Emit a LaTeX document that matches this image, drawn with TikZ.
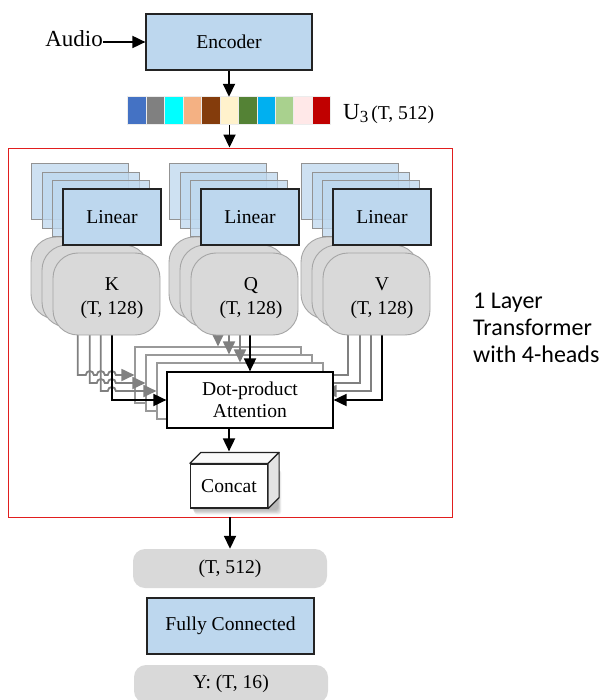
\documentclass[tikz,border=0pt]{standalone}
\usepackage{fontspec}
\setmainfont{Liberation Serif}
\newfontfamily\calibrifont{Carlito}
\usetikzlibrary{arrows.meta,calc}
\definecolor{boxblue}{RGB}{189,215,238}
\definecolor{blobgray}{RGB}{217,217,217}
\definecolor{blobedge}{RGB}{165,165,165}
\definecolor{linegray}{RGB}{128,128,128}
\definecolor{frameRed}{RGB}{225,30,30}
\definecolor{edgedark}{RGB}{35,35,35}
\definecolor{cA}{RGB}{68,114,196}
\definecolor{cB}{RGB}{128,128,128}
\definecolor{cC}{RGB}{0,255,255}
\definecolor{cD}{RGB}{244,177,131}
\definecolor{cE}{RGB}{132,60,12}
\definecolor{cF}{RGB}{255,242,204}
\definecolor{cG}{RGB}{84,130,53}
\definecolor{cH}{RGB}{0,176,240}
\definecolor{cI}{RGB}{169,209,142}
\definecolor{cJ}{RGB}{255,232,232}
\definecolor{cK}{RGB}{192,0,0}
\begin{document}
\begin{tikzpicture}[x=1pt,y=-1pt,
  txt/.style={font=\fontsize{19.6}{23}\selectfont},
  bluebox/.style={draw=edgedark,fill=boxblue,line width=1.2pt,inner sep=0pt,txt},
  backblue/.style={draw=gray!85,fill=boxblue,fill opacity=0.75,line width=1pt},
  blobstyle/.style={draw=blobedge,fill=blobgray,line width=0.9pt,rounded corners=25pt},
  attback/.style={draw=gray!80,fill=white,line width=1.1pt,inner sep=0pt,minimum width=166pt,minimum height=56pt},
  arr/.style={line width=1.8pt,-{Triangle[length=13pt,width=12pt]}},
  garr/.style={draw=linegray,line width=1.8pt,-{Triangle[length=13pt,width=12pt]}},
  greybox/.style={fill=blobgray,rounded corners=12pt,inner sep=0pt,txt},
]
\useasboundingbox (0,0) rectangle (602,700);

% red frame
\node[draw=frameRed,line width=0.9pt,minimum width=444pt,minimum height=369pt,inner sep=0pt] (frame) at (230,332.5) {};

% encoder and input
\node[bluebox,minimum width=166pt,minimum height=56pt] (enc) at (229,42) {Encoder};
\node[anchor=base east,font=\fontsize{23}{23}\selectfont,inner sep=0pt] (audio) at (103,47) {Audio};
\draw[arr] (audio.east |- enc.west) -- (enc.west);

% colour bar
\node[minimum width=203pt,minimum height=28pt,inner sep=0pt] (bar) at (229.5,111) {};
\foreach \c [count=\i from 0] in {cA,cB,cC,cD,cE,cF,cG,cH,cI,cJ,cK}
  \draw[fill=\c,draw=white!85!gray,line width=0.8pt] ($(bar.north west)+(\i*18.4545,0)$) rectangle ++(18.4545,28);
\node[anchor=base west,inner sep=0pt] (ulab) at (343,120) {{\fontsize{23}{23}\selectfont U}\raisebox{-3pt}{\fontsize{17}{17}\selectfont 3}\hspace{3pt}{\fontsize{19.6}{23}\selectfont(T, 512)}};
\draw[arr] (enc.south) -- (enc.south |- bar.north);
\draw[arr] (bar.south) -- (bar.south |- frame.north);

% positions of the front blobs (for the connectors)
\foreach \nm/\gx in {K/31,Q/169,V/301}{
  \path (\gx+75.5,294) node[minimum width=107pt,minimum height=82pt,inner sep=0pt] (pos\nm) {};
}

% attention stack with incoming connectors
\node[attback] (att0) at (218,375) {};
\coordinate (k0) at ($(posK.south west)+(25,-8)$);
\coordinate (k1) at ($(posK.south west)+(37,-8)$);
\coordinate (k2) at ($(posK.south west)+(48,-8)$);
\coordinate (k3) at ($(posK.south west)+(59,-8)$);
\coordinate (v0) at ($(posV.south west)+(25,-8)$);
\coordinate (v1) at ($(posV.south west)+(37,-8)$);
\coordinate (v2) at ($(posV.south west)+(48,-8)$);
\coordinate (v3) at ($(posV.south west)+(59,-8)$);
\coordinate (q0) at ($(posQ.south west)+(25,-8)$);
\draw[garr] (k0) -- (k0 |- att0.west) -- ++(8,0) arc[start angle=180,end angle=360,radius=4] -- ++(3,0) arc[start angle=180,end angle=360,radius=4] -- ++(3,0) arc[start angle=180,end angle=360,radius=4] -- (att0.west);
\draw[garr] (v0) |- (att0.east);
\draw[garr] (att0.north |- q0) -- (att0.north);

\node[attback] (att1) at (229,383) {};
\draw[garr] (k1) -- (k1 |- att1.west) -- ++(7,0) arc[start angle=180,end angle=360,radius=4] -- ++(3,0) arc[start angle=180,end angle=360,radius=4] -- (att1.west);
\draw[garr] (v1) |- (att1.east);
\draw[garr] (att1.north |- q0) -- (att1.north);

\node[attback] (att2) at (240,391) {};
\draw[garr] (k2) -- (k2 |- att2.west) -- ++(7,0) arc[start angle=180,end angle=360,radius=4] -- (att2.west);
\draw[garr] (v2) |- (att2.east);
\draw[garr] (att2.north |- q0) -- (att2.north);

\node[draw=black,fill=white,line width=1.2pt,inner sep=0pt,minimum width=166pt,minimum height=56pt,align=center,font=\fontsize{19.6}{22}\selectfont] (attn) at (250,400) {Dot-product\\Attention};
\draw[arr] (k3) |- (attn.west);
\draw[arr] (v3) |- (attn.east);
\draw[arr] (attn.north |- q0) -- (attn.north);

% blobs
\foreach \nm/\gx in {K/31,Q/169,V/301}{
  \draw[blobstyle] (\gx,237) rectangle ++(107,82);
  \draw[blobstyle] (\gx+11,245) rectangle ++(107,82);
  \node[blobstyle,minimum width=107pt,minimum height=82pt,inner sep=0pt] (blob\nm) at (\gx+75.5,294) {};
}
\node[inner sep=0pt,align=center,font=\fontsize{19.6}{24}\selectfont] (txtK) at (112,298) {K\\(T, 128)};
\node[inner sep=0pt,align=center,font=\fontsize{19.6}{24}\selectfont] (txtQ) at (251,298) {Q\\(T, 128)};
\node[inner sep=0pt,align=center,font=\fontsize{19.6}{24}\selectfont] (txtV) at (382,298) {V\\(T, 128)};

% linear stacks
\foreach \nm/\gx in {K/31,Q/169,V/301}{
  \draw[backblue] (\gx,164) rectangle ++(97,56);
  \draw[backblue] (\gx+11,172.5) rectangle ++(97,56);
  \draw[backblue] (\gx+21.5,181) rectangle ++(97,56);
  \node[bluebox,minimum width=98pt,minimum height=56pt] (lin\nm) at (\gx+81,217) {Linear};
}

% concat cube
\node[minimum width=77pt,minimum height=44pt,inner sep=0pt] (cpos) at (229,486) {};
\foreach \s in {1,...,6}
  \fill[black,opacity=0.05,rounded corners=3pt] ($(cpos.north west)+(1+0.5*\s,6)$) rectangle ($(cpos.south east)+(10+0.6*\s,1+0.9*\s)$);
\node[draw=edgedark,fill=white,line width=1.2pt,minimum width=77pt,minimum height=44pt,inner sep=0pt,txt] (concat) at (229,486) {Concat};
\draw[edgedark,line width=1.2pt,fill=white!96!gray,line join=round] (concat.north west) -- ++(11,-11) -- ($(concat.north east)+(11,-11)$) -- (concat.north east) -- cycle;
\draw[edgedark,line width=1.2pt,fill=gray!22,line join=round] (concat.north east) -- ++(11,-11) -- ($(concat.south east)+(11,-11)$) -- (concat.south east) -- cycle;
\draw[arr] (attn.south -| concat.north) -- ($(concat.north)+(0,-12)$);

% output part
\node[greybox,minimum width=194pt,minimum height=39pt] (t512) at (230,568.5) {(T, 512)};
\node[bluebox,minimum width=167pt,minimum height=56pt] (fc) at (230.5,626) {Fully Connected};
\node[greybox,minimum width=194pt,minimum height=38pt] (yout) at (231,684) {Y: (T, 16)};
\draw[arr] (frame.south) -- (t512.north);

% side label
\node[anchor=base west,inner sep=0pt,font=\calibrifont\fontsize{24}{27}\selectfont] (lab1) at (473,308) {1 Layer};
\node[anchor=base west,inner sep=0pt,font=\calibrifont\fontsize{24}{27}\selectfont] (lab2) at (473,335) {Transformer};
\node[anchor=base west,inner sep=0pt,font=\calibrifont\fontsize{24}{27}\selectfont] (lab3) at (473,362) {with 4-heads};
\end{tikzpicture}
\end{document}
